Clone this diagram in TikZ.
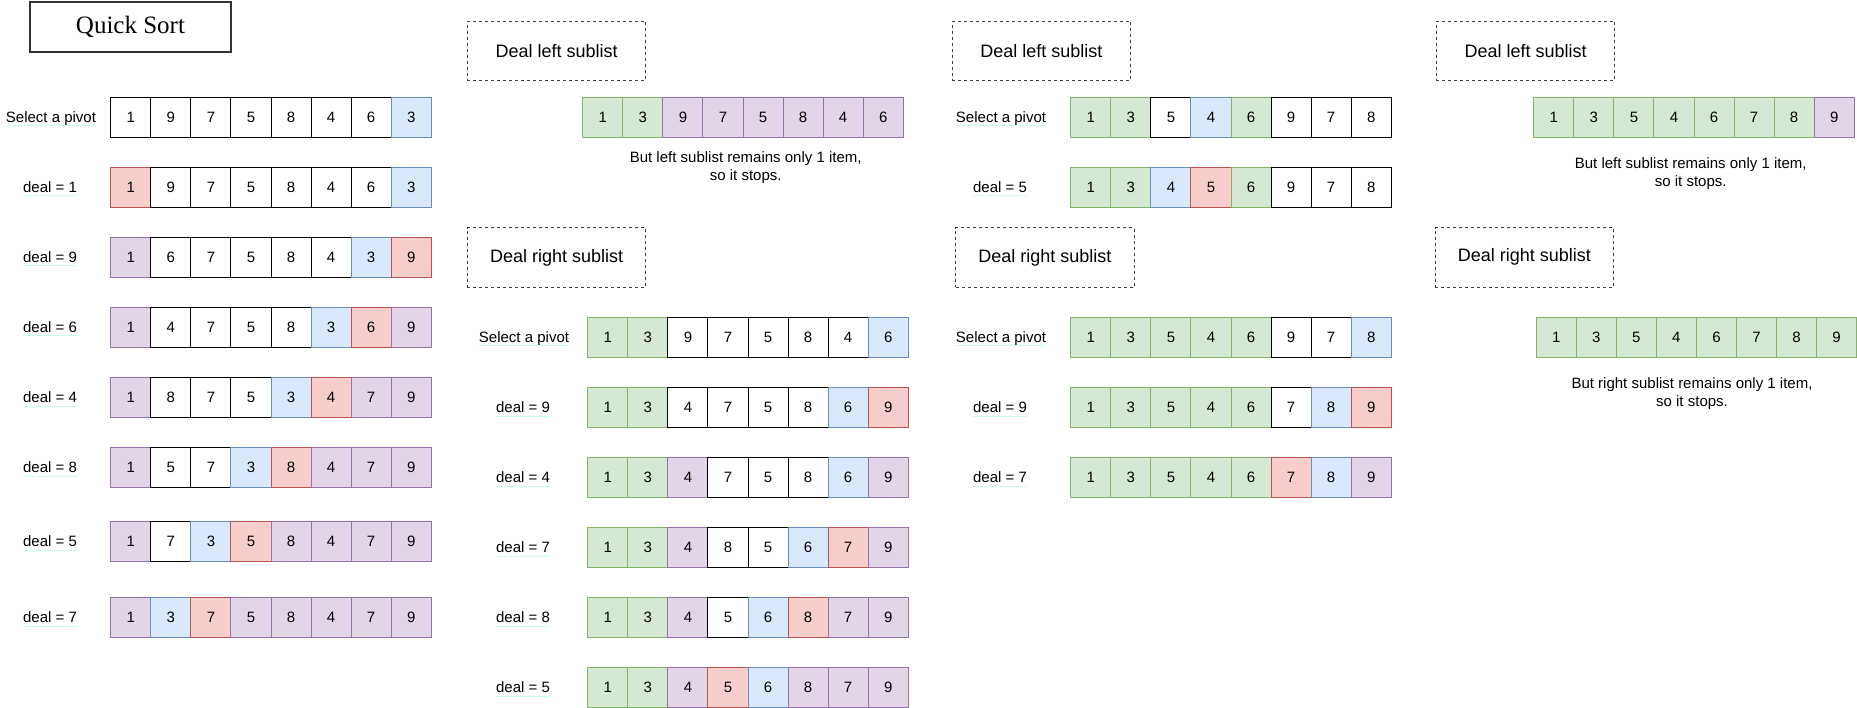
\documentclass[tikz,border=0pt]{standalone}
\usepackage{fontspec}
\setmainfont{Liberation Sans}
\newfontfamily\qsserif{Liberation Serif}
\definecolor{redf}{HTML}{F8CECC}\definecolor{redd}{HTML}{B85450}
\definecolor{bluef}{HTML}{DAE8FC}\definecolor{blued}{HTML}{6C8EBF}
\definecolor{purf}{HTML}{E1D5E7}\definecolor{purd}{HTML}{9673A6}
\definecolor{grnf}{HTML}{D5E8D4}\definecolor{grnd}{HTML}{82B366}
\definecolor{mint}{RGB}{200,255,228}
\tikzset{
  cellbase/.style={draw, line width=1pt, minimum width=40.05pt, minimum height=40pt, inner sep=0pt, anchor=north west, font=\fontsize{15}{18}\selectfont},
  wc/.style={cellbase, fill=white, draw=black},
  rc/.style={cellbase, fill=redf, draw=redd},
  bc/.style={cellbase, fill=bluef, draw=blued},
  pc/.style={cellbase, fill=purf, draw=purd},
  gc/.style={cellbase, fill=grnf, draw=grnd},
  lab/.style={anchor=base, inner sep=0pt, font=\fontsize{15}{18}\selectfont},
  uline/.style={draw=mint, line width=1pt},
  dbox/.style={draw=black!75, line width=1pt, dash pattern=on 3pt off 3pt, minimum width=178.5pt, minimum height=59.5pt, inner sep=0pt, font=\fontsize{18}{22}\selectfont},
  note/.style={align=center, inner sep=0pt, font=\fontsize{15}{18}\selectfont},
}
\newcommand\qrow[4]{\foreach \v/\s [count=\i from 0] in {#4} {\node[\s] (#1-\i) at ({#2+\i*40.05},#3) {\v};}}
\newcommand\qlab[4]{\node[lab] (#1) at (#2,{#3+25.4}) {#4};
  \draw[uline] ([yshift=-3.3pt]#1.base west) -- ([yshift=-3.3pt]#1.base east);}
\begin{document}
\begin{tikzpicture}[x=1pt,y=-1pt]
\useasboundingbox (0,0) rectangle (1857,708);
% title
\node[draw=black!80, line width=2pt, minimum width=201pt, minimum height=50.7pt, inner sep=0pt, font=\qsserif\fontsize{25}{30}\selectfont] (title) at (130.5,27) {Quick Sort};
% column 1
\qlab{la1}{51}{97.3}{Select a pivot}
\qrow{a1}{110.3}{97.3}{1/wc,9/wc,7/wc,5/wc,8/wc,4/wc,6/wc,3/bc}
\qlab{la2}{50}{167.3}{deal = 1}
\qrow{a2}{110.3}{167.3}{1/rc,9/wc,7/wc,5/wc,8/wc,4/wc,6/wc,3/bc}
\qlab{la3}{50}{237.3}{deal = 9}
\qrow{a3}{110.3}{237.3}{1/pc,6/wc,7/wc,5/wc,8/wc,4/wc,3/bc,9/rc}
\qlab{la4}{50}{307.3}{deal = 6}
\qrow{a4}{110.3}{307.3}{1/pc,4/wc,7/wc,5/wc,8/wc,3/bc,6/rc,9/pc}
\qlab{la5}{50}{377.3}{deal = 4}
\qrow{a5}{110.3}{377.3}{1/pc,8/wc,7/wc,5/wc,3/bc,4/rc,7/pc,9/pc}
\qlab{la6}{50}{447.3}{deal = 8}
\qrow{a6}{110.3}{447.3}{1/pc,5/wc,7/wc,3/bc,8/rc,4/pc,7/pc,9/pc}
\qlab{la7}{50}{521.3}{deal = 5}
\qrow{a7}{110.3}{521.3}{1/pc,7/wc,3/bc,5/rc,8/pc,4/pc,7/pc,9/pc}
\qlab{la8}{50}{597.3}{deal = 7}
\qrow{a8}{110.3}{597.3}{1/pc,3/bc,7/rc,5/pc,8/pc,4/pc,7/pc,9/pc}
% column 2
\node[dbox] (b-left) at (556.7,51.2) {Deal left sublist};
\qrow{b0}{582.3}{97.3}{1/gc,3/gc,9/pc,7/pc,5/pc,8/pc,4/pc,6/pc}
\node[note] (bn) at (745.7,168) {But left sublist remains only 1 item,\\so it stops.};
\node[dbox] (b-right) at (556.7,257.4) {Deal right sublist};
\qlab{lb1}{524}{317.3}{Select a pivot}
\qrow{b1}{587.3}{317.3}{1/gc,3/gc,9/wc,7/wc,5/wc,8/wc,4/wc,6/bc}
\qlab{lb2}{523}{387.3}{deal = 9}
\qrow{b2}{587.3}{387.3}{1/gc,3/gc,4/wc,7/wc,5/wc,8/wc,6/bc,9/rc}
\qlab{lb3}{523}{457.3}{deal = 4}
\qrow{b3}{587.3}{457.3}{1/gc,3/gc,4/pc,7/wc,5/wc,8/wc,6/bc,9/pc}
\qlab{lb4}{523}{527.3}{deal = 7}
\qrow{b4}{587.3}{527.3}{1/gc,3/gc,4/pc,8/wc,5/wc,6/bc,7/rc,9/pc}
\qlab{lb5}{523}{597.3}{deal = 8}
\qrow{b5}{587.3}{597.3}{1/gc,3/gc,4/pc,5/wc,6/bc,8/rc,7/pc,9/pc}
\qlab{lb6}{523}{667.3}{deal = 5}
\qrow{b6}{587.3}{667.3}{1/gc,3/gc,4/pc,5/rc,6/bc,8/pc,7/pc,9/pc}
% column 3
\node[dbox] (c-left) at (1041.3,51.2) {Deal left sublist};
\qlab{lc1}{1001}{97.3}{Select a pivot}
\qrow{c1}{1070.3}{97.3}{1/gc,3/gc,5/wc,4/bc,6/gc,9/wc,7/wc,8/wc}
\qlab{lc2}{1000}{167.3}{deal = 5}
\qrow{c2}{1070.3}{167.3}{1/gc,3/gc,4/bc,5/rc,6/gc,9/wc,7/wc,8/wc}
\node[dbox] (c-right) at (1044.9,257.4) {Deal right sublist};
\qlab{lc3}{1001}{317.3}{Select a pivot}
\qrow{c3}{1070.3}{317.3}{1/gc,3/gc,5/gc,4/gc,6/gc,9/wc,7/wc,8/bc}
\qlab{lc4}{1000}{387.3}{deal = 9}
\qrow{c4}{1070.3}{387.3}{1/gc,3/gc,5/gc,4/gc,6/gc,7/wc,8/bc,9/rc}
\qlab{lc5}{1000}{457.3}{deal = 7}
\qrow{c5}{1070.3}{457.3}{1/gc,3/gc,5/gc,4/gc,6/gc,7/rc,8/bc,9/pc}
% column 4
\node[dbox] (d-left) at (1525.7,51.2) {Deal left sublist};
\qrow{d1}{1533.3}{97.3}{1/gc,3/gc,5/gc,4/gc,6/gc,7/gc,8/gc,9/pc}
\node[note] (dn1) at (1690.7,173.7) {But left sublist remains only 1 item,\\so it stops.};
\node[dbox] (d-right) at (1524.3,257.3) {Deal right sublist};
\qrow{d2}{1535.7}{317.3}{1/gc,3/gc,5/gc,4/gc,6/gc,7/gc,8/gc,9/gc}
\node[note] (dn2) at (1692,394) {But right sublist remains only 1 item,\\so it stops.};
\end{tikzpicture}
\end{document}
